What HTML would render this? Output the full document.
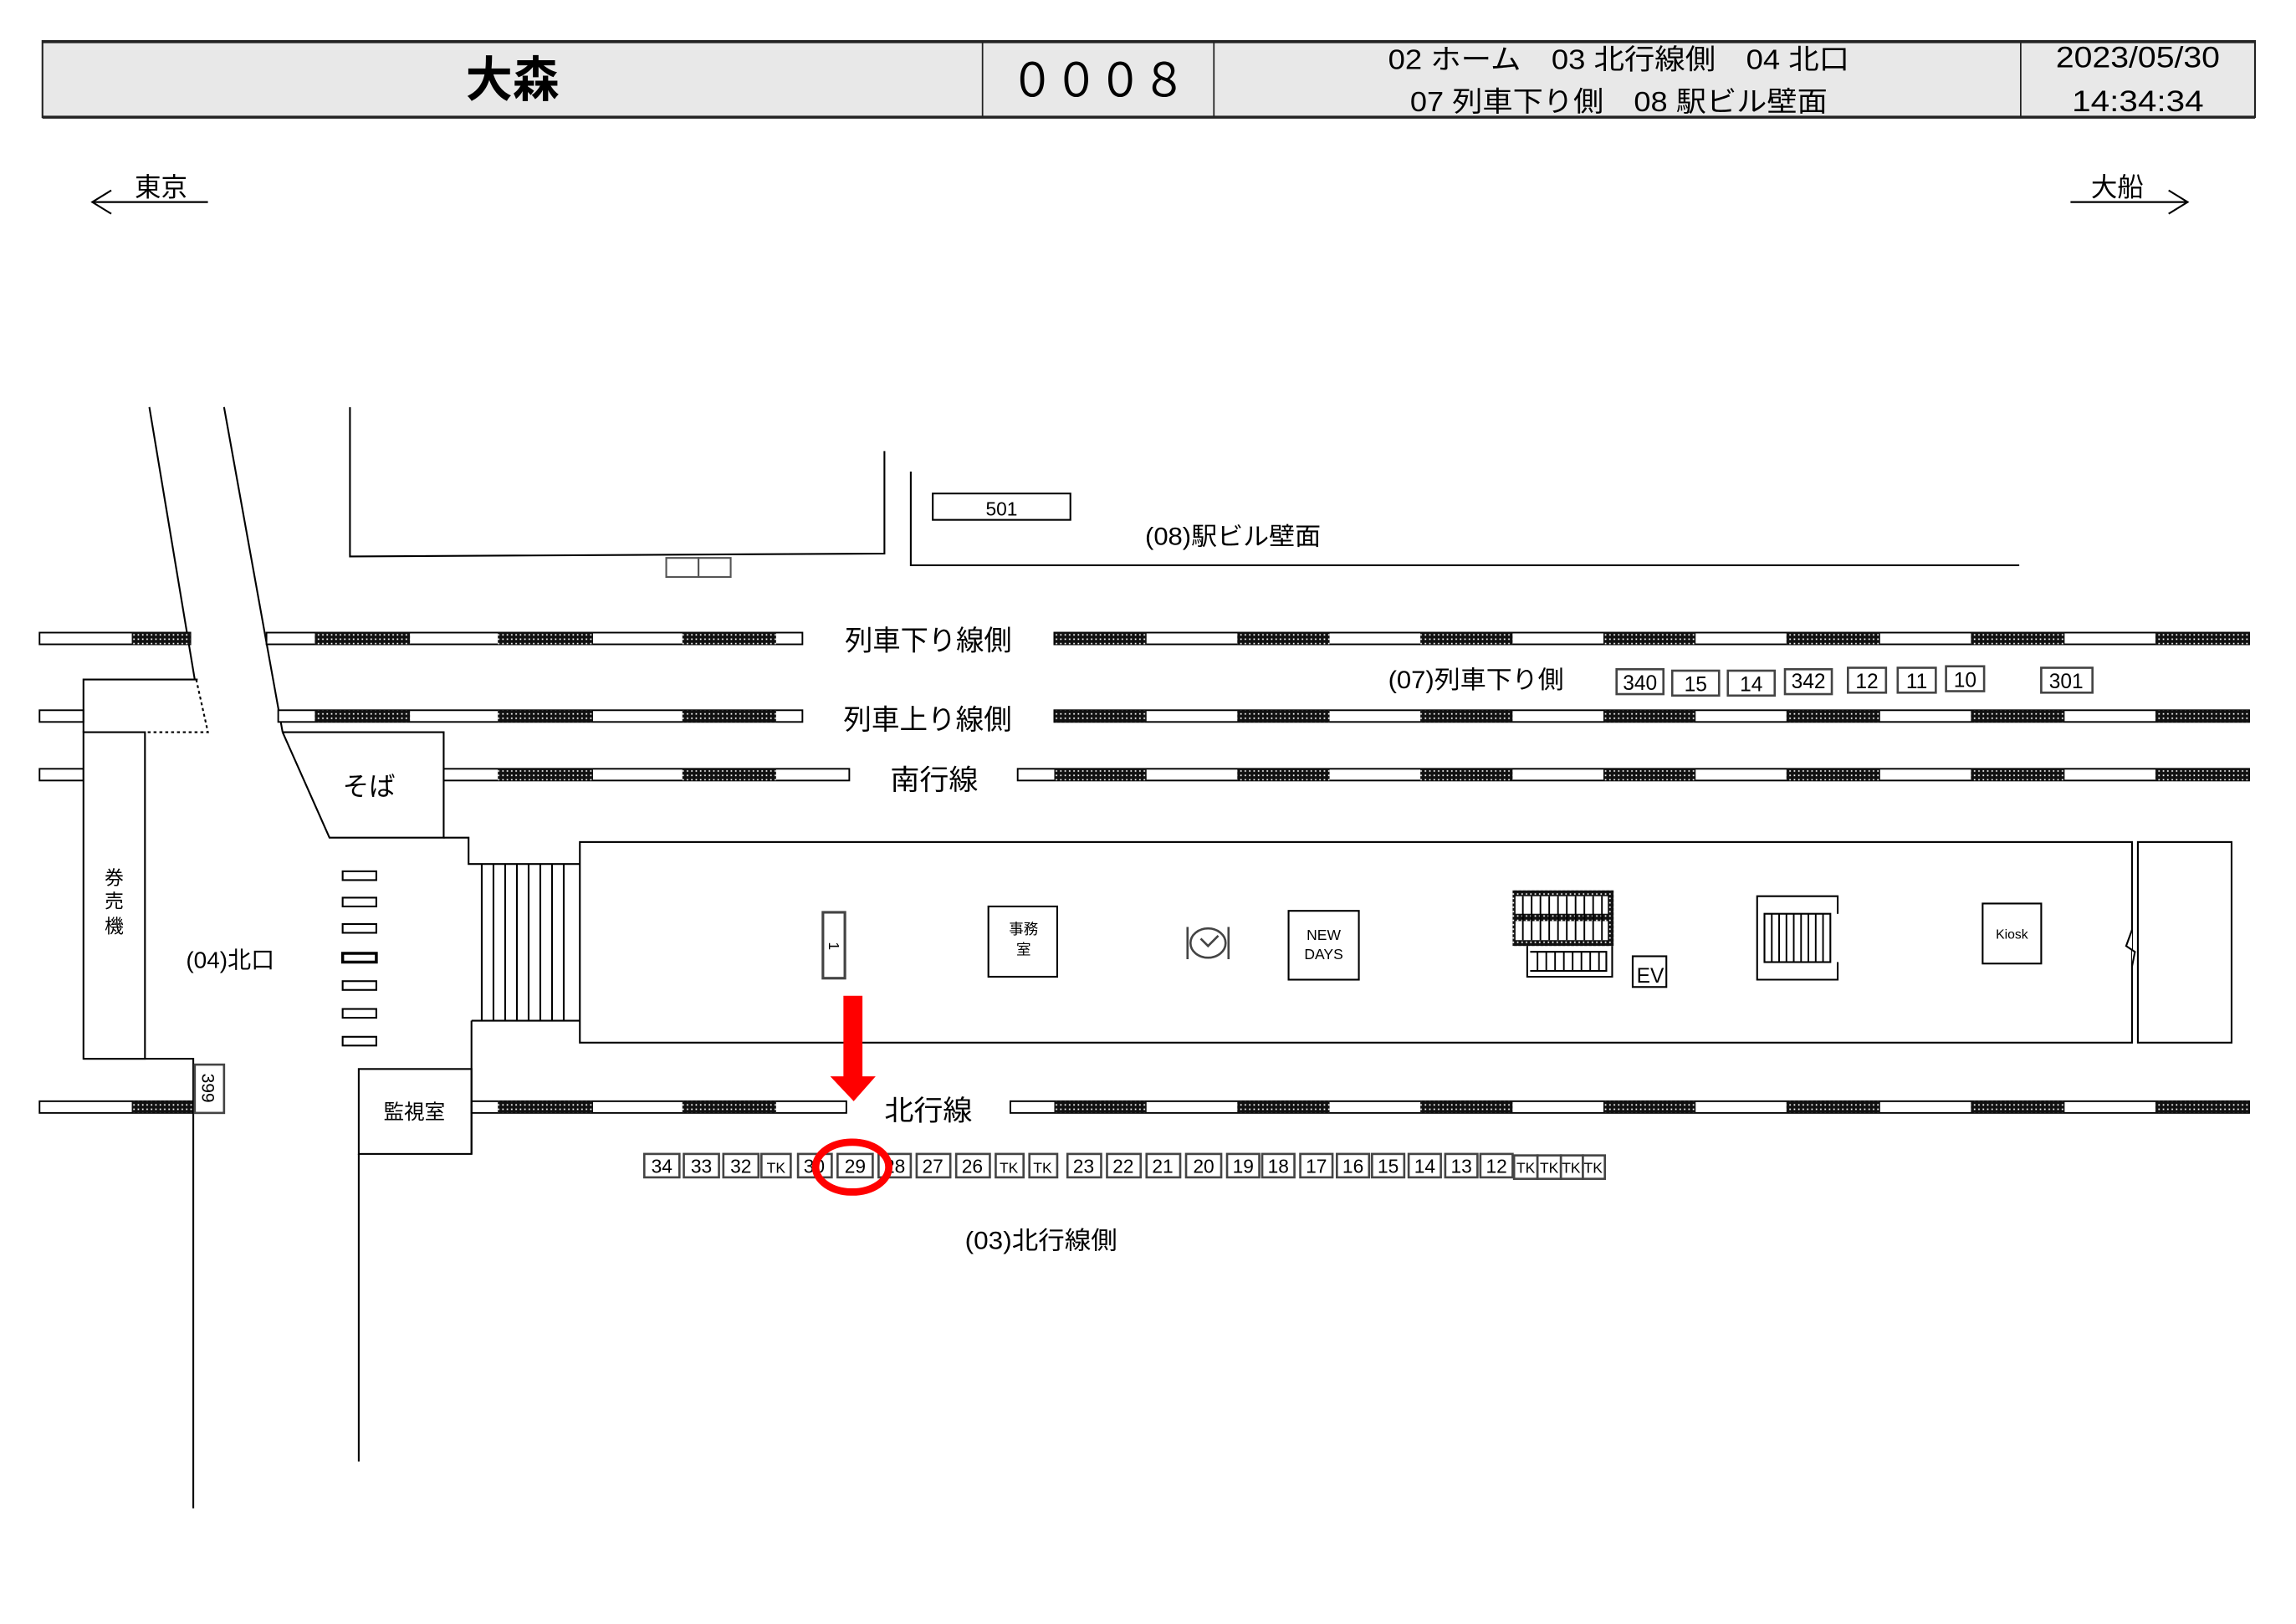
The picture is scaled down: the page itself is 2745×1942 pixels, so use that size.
<!DOCTYPE html>
<html><head><meta charset="utf-8">
<style>
html,body{margin:0;padding:0;background:#fff;}
svg{display:block;}
text{font-family:"Liberation Sans","Noto Sans CJK JP",sans-serif;fill:#000;}
</style></head>
<body>
<svg width="2745" height="1942" viewBox="0 0 1568 1109" preserveAspectRatio="none" xmlns="http://www.w3.org/2000/svg">
<defs>
<pattern id="dots" width="3" height="3" patternUnits="userSpaceOnUse">
<rect width="3" height="3" fill="#111"/><rect x="1" y="1" width="1" height="1" fill="#fff"/>
</pattern>
</defs>
<rect width="1568" height="1109" fill="#fff"/>

<!-- header -->
<rect x="29" y="28" width="1511" height="52" fill="#e8e8e8" stroke="#222" stroke-width="1.2"/>
<line x1="29" y1="28.5" x2="1540" y2="28.5" stroke="#222" stroke-width="2"/>
<line x1="29" y1="80" x2="1540" y2="80" stroke="#222" stroke-width="2"/>
<line x1="671" y1="28" x2="671" y2="80" stroke="#222" stroke-width="1"/>
<line x1="829" y1="28" x2="829" y2="80" stroke="#222" stroke-width="1"/>
<line x1="1380" y1="28" x2="1380" y2="80" stroke="#222" stroke-width="1"/>
<text x="318" y="66" font-size="33" font-weight="bold" textLength="64" lengthAdjust="spacingAndGlyphs">大森</text>
<text x="690" y="66" font-size="32" textLength="120" lengthAdjust="spacingAndGlyphs">０００８</text>
<text x="948" y="47" font-size="19" textLength="315" lengthAdjust="spacingAndGlyphs">02 ホーム　03 北行線側　04 北口</text>
<text x="963" y="76" font-size="19" textLength="285" lengthAdjust="spacingAndGlyphs">07 列車下り側　08 駅ビル壁面</text>
<text x="1404" y="46" font-size="20" textLength="112" lengthAdjust="spacingAndGlyphs">2023/05/30</text>
<text x="1415" y="76" font-size="20" textLength="90" lengthAdjust="spacingAndGlyphs">14:34:34</text>

<!-- direction arrows -->
<text x="110" y="134" font-size="18" text-anchor="middle">東京</text>
<line x1="63" y1="138" x2="142" y2="138" stroke="#000" stroke-width="1.3"/>
<polyline points="76,130 63,138 76,146" fill="none" stroke="#000" stroke-width="1.2"/>
<text x="1446" y="134" font-size="18" text-anchor="middle">大船</text>
<line x1="1414" y1="138" x2="1494" y2="138" stroke="#000" stroke-width="1.3"/>
<polyline points="1481,130 1494,138 1481,146" fill="none" stroke="#000" stroke-width="1.2"/>

<g fill="none" stroke="#000" stroke-width="1.2">
<polyline points="239,278 239,380 604,378 604,308"/>
<rect x="455" y="381" width="22" height="13" stroke="#555"/>
<rect x="477" y="381" width="22" height="13" stroke="#555"/>
<polyline points="622,322 622,386 1379,386"/>
<rect x="637" y="337" width="94" height="18"/>
<line x1="102" y1="278" x2="133" y2="464"/>
<line x1="153" y1="278" x2="193" y2="500"/>
</g>
<text x="684" y="352" font-size="13" text-anchor="middle">501</text>
<text x="782" y="372" font-size="17" textLength="120" lengthAdjust="spacingAndGlyphs">(08)駅ビル壁面</text>

<!-- tracks -->
<g stroke="#000" stroke-width="1.1" fill="#fff">
<rect x="27" y="432" width="103" height="8"/>
<rect x="182" y="432" width="366" height="8"/>
<rect x="720" y="432" width="816" height="8"/>
<rect x="27" y="485" width="30" height="8"/>
<rect x="190" y="485" width="358" height="8"/>
<rect x="720" y="485" width="816" height="8"/>
<rect x="27" y="525" width="30" height="8"/>
<rect x="303" y="525" width="277" height="8"/>
<rect x="695" y="525" width="841" height="8"/>
<rect x="27" y="752" width="105" height="8"/>
<rect x="322" y="752" width="256" height="8"/>
<rect x="690" y="752" width="846" height="8"/>
</g>
<g fill="url(#dots)">
<rect x="90" y="432" width="40" height="8"/>
<rect x="215" y="432" width="65" height="8"/><rect x="340" y="432" width="65" height="8"/><rect x="466" y="432" width="64" height="8"/>
<rect x="720" y="432" width="63" height="8"/><rect x="845" y="432" width="63" height="8"/><rect x="970" y="432" width="63" height="8"/><rect x="1095" y="432" width="63" height="8"/><rect x="1220" y="432" width="64" height="8"/><rect x="1346" y="432" width="64" height="8"/><rect x="1472" y="432" width="64" height="8"/>
<rect x="215" y="485" width="65" height="8"/><rect x="340" y="485" width="65" height="8"/><rect x="466" y="485" width="64" height="8"/>
<rect x="720" y="485" width="63" height="8"/><rect x="845" y="485" width="63" height="8"/><rect x="970" y="485" width="63" height="8"/><rect x="1095" y="485" width="63" height="8"/><rect x="1220" y="485" width="64" height="8"/><rect x="1346" y="485" width="64" height="8"/><rect x="1472" y="485" width="64" height="8"/>
<rect x="340" y="525" width="65" height="8"/><rect x="466" y="525" width="64" height="8"/>
<rect x="720" y="525" width="63" height="8"/><rect x="845" y="525" width="63" height="8"/><rect x="970" y="525" width="63" height="8"/><rect x="1095" y="525" width="63" height="8"/><rect x="1220" y="525" width="64" height="8"/><rect x="1346" y="525" width="64" height="8"/><rect x="1472" y="525" width="64" height="8"/>
<rect x="90" y="752" width="42" height="8"/>
<rect x="340" y="752" width="65" height="8"/><rect x="466" y="752" width="64" height="8"/>
<rect x="720" y="752" width="63" height="8"/><rect x="845" y="752" width="63" height="8"/><rect x="970" y="752" width="63" height="8"/><rect x="1095" y="752" width="63" height="8"/><rect x="1220" y="752" width="64" height="8"/><rect x="1346" y="752" width="64" height="8"/><rect x="1472" y="752" width="64" height="8"/>
</g>
<g font-size="19">
<text x="577" y="444" textLength="114" lengthAdjust="spacingAndGlyphs">列車下り線側</text>
<text x="576" y="498" textLength="115" lengthAdjust="spacingAndGlyphs">列車上り線側</text>
<text x="608" y="539" textLength="60" lengthAdjust="spacingAndGlyphs">南行線</text>
<text x="604" y="765" textLength="60" lengthAdjust="spacingAndGlyphs">北行線</text>
</g>
<text x="948" y="470" font-size="17" textLength="120" lengthAdjust="spacingAndGlyphs">(07)列車下り側</text>

<!-- left structures -->
<g fill="none" stroke="#000" stroke-width="1.2">
<polyline points="135,464 57,464 57,500"/>
<polyline points="134,464 142,500 100,500" stroke-dasharray="2,2"/>
<rect x="57" y="500" width="42" height="223" fill="#fff"/>
<polyline points="57,723 132,723 132,1030"/>
<polyline points="193,500 303,500 303,572 225,572 193,500"/>
<polyline points="303,572 320,572 320,590 396,590"/>
<polyline points="322,697 322,788"/>
<rect x="245" y="730" width="77" height="58"/>
<line x1="245" y1="788" x2="245" y2="998"/>
<line x1="322" y1="697" x2="396" y2="697"/>
<line x1="329" y1="590" x2="329" y2="697"/>
<line x1="337" y1="590" x2="337" y2="697"/><line x1="345" y1="590" x2="345" y2="697"/><line x1="353" y1="590" x2="353" y2="697"/><line x1="361" y1="590" x2="361" y2="697"/><line x1="369" y1="590" x2="369" y2="697"/><line x1="377" y1="590" x2="377" y2="697"/><line x1="385" y1="590" x2="385" y2="697"/>
<rect x="234" y="595" width="23" height="6"/><rect x="234" y="613" width="23" height="6"/><rect x="234" y="631" width="23" height="6"/><rect x="234" y="651" width="23" height="6" stroke-width="2"/><rect x="234" y="670" width="23" height="6"/><rect x="234" y="689" width="23" height="6"/><rect x="234" y="708" width="23" height="6"/>
<rect x="133" y="727" width="20" height="33" stroke="#444" stroke-width="1.5" fill="#fff"/>
</g>
<text x="252" y="543" font-size="18" text-anchor="middle">そば</text>
<text x="78" y="604" font-size="13" text-anchor="middle">券</text>
<text x="78" y="620" font-size="13" text-anchor="middle">売</text>
<text x="78" y="637" font-size="13" text-anchor="middle">機</text>
<text x="127" y="661" font-size="16">(04)北口</text>
<text x="283" y="764" font-size="14" text-anchor="middle">監視室</text>
<text transform="translate(138,743) rotate(90)" font-size="12" text-anchor="middle">399</text>

<!-- platform -->
<g fill="none" stroke="#000" stroke-width="1.2">
<rect x="396" y="575" width="1060" height="137"/>
<rect x="1460" y="575" width="64" height="137"/>
<polyline points="1456,635 1452,646 1458,650 1456,660" fill="#fff"/>
<rect x="562" y="623" width="15" height="45" stroke="#444" stroke-width="1.8"/>
<rect x="675" y="619" width="47" height="48"/>
<rect x="880" y="622" width="48" height="47"/>
<rect x="1354" y="617" width="40" height="41"/>
<rect x="1115" y="653" width="23" height="21"/>
<line x1="811" y1="633" x2="811" y2="655" stroke="#444" stroke-width="1.5"/>
<line x1="839" y1="633" x2="839" y2="655" stroke="#444" stroke-width="1.5"/>
<ellipse cx="825" cy="644" rx="12" ry="10" stroke="#444" stroke-width="1.5"/>
<polyline points="820,641 825,646 832,639" stroke="#444" stroke-width="1.5"/>
<rect x="1033" y="608" width="69" height="38" fill="url(#dots)" stroke="none"/>
<rect x="1035" y="612" width="63" height="12" fill="#fff" stroke="none"/>
<rect x="1035" y="629" width="63" height="13" fill="#fff" stroke="none"/>
<g stroke-width="1.1">
<line x1="1040" y1="612" x2="1040" y2="642"/><line x1="1046" y1="612" x2="1046" y2="642"/><line x1="1052" y1="612" x2="1052" y2="642"/><line x1="1058" y1="612" x2="1058" y2="642"/><line x1="1064" y1="612" x2="1064" y2="642"/><line x1="1070" y1="612" x2="1070" y2="642"/><line x1="1076" y1="612" x2="1076" y2="642"/><line x1="1082" y1="612" x2="1082" y2="642"/><line x1="1088" y1="612" x2="1088" y2="642"/><line x1="1094" y1="612" x2="1094" y2="642"/>
</g>
<polyline points="1043,646 1043,667 1101,667 1101,646"/>
<polyline points="1045,650 1097,650 1097,663 1045,663"/>
<g stroke-width="1.1">
<line x1="1050" y1="650" x2="1050" y2="663"/><line x1="1056" y1="650" x2="1056" y2="663"/><line x1="1062" y1="650" x2="1062" y2="663"/><line x1="1068" y1="650" x2="1068" y2="663"/><line x1="1074" y1="650" x2="1074" y2="663"/><line x1="1080" y1="650" x2="1080" y2="663"/><line x1="1086" y1="650" x2="1086" y2="663"/><line x1="1092" y1="650" x2="1092" y2="663"/>
</g>
<polyline points="1255,624 1255,612 1200,612 1200,669 1255,669 1255,657"/>
<rect x="1205" y="624" width="45" height="33"/>
<g stroke-width="1.1">
<line x1="1210" y1="624" x2="1210" y2="657"/><line x1="1215" y1="624" x2="1215" y2="657"/><line x1="1220" y1="624" x2="1220" y2="657"/><line x1="1225" y1="624" x2="1225" y2="657"/><line x1="1230" y1="624" x2="1230" y2="657"/><line x1="1235" y1="624" x2="1235" y2="657"/><line x1="1240" y1="624" x2="1240" y2="657"/><line x1="1245" y1="624" x2="1245" y2="657"/>
</g>
</g>
<text transform="translate(566,646) rotate(90)" font-size="10" text-anchor="middle">1</text>
<text x="699" y="638" font-size="10" text-anchor="middle">事務</text>
<text x="699" y="652" font-size="10" text-anchor="middle">室</text>
<text x="904" y="642" font-size="10" text-anchor="middle">NEW</text>
<text x="904" y="655" font-size="10" text-anchor="middle">DAYS</text>
<text x="1374" y="641" font-size="9" text-anchor="middle">Kiosk</text>
<text x="1127" y="671" font-size="14" text-anchor="middle">EV</text>

<rect x="576" y="680" width="13" height="56" fill="#f00"/>
<polygon points="567,735 598,735 583,752" fill="#f00"/>

<g fill="#fff" stroke="#444" stroke-width="1.5">
<rect x="1104" y="457" width="32" height="17"/><rect x="1142" y="458" width="32" height="17"/><rect x="1180" y="458" width="32" height="17"/><rect x="1219" y="457" width="32" height="17"/><rect x="1262" y="456" width="26" height="17"/><rect x="1296" y="456" width="26" height="17"/><rect x="1329" y="455" width="26" height="17"/><rect x="1394" y="456" width="35" height="17"/>
</g>
<g font-size="14" text-anchor="middle">
<text x="1120" y="471">340</text><text x="1158" y="472">15</text><text x="1196" y="472">14</text><text x="1235" y="470">342</text><text x="1275" y="470">12</text><text x="1309" y="470">11</text><text x="1342" y="469">10</text><text x="1411" y="470">301</text>
</g>

<g fill="#fff" stroke="#444" stroke-width="1.5">
<rect x="440" y="788" width="24" height="16"/><rect x="467" y="788" width="24" height="16"/><rect x="494" y="788" width="24" height="16"/><rect x="520" y="788" width="20" height="16"/><rect x="545" y="788" width="23" height="16"/><rect x="572" y="788" width="24" height="16"/><rect x="600" y="788" width="22" height="16"/><rect x="626" y="788" width="23" height="16"/><rect x="653" y="788" width="23" height="16"/><rect x="680" y="788" width="19" height="16"/><rect x="703" y="788" width="19" height="16"/><rect x="729" y="788" width="23" height="16"/><rect x="756" y="788" width="23" height="16"/><rect x="783" y="788" width="23" height="16"/><rect x="810" y="788" width="24" height="16"/><rect x="838" y="788" width="22" height="16"/><rect x="862" y="788" width="22" height="16"/><rect x="888" y="788" width="22" height="16"/><rect x="913" y="788" width="22" height="16"/><rect x="937" y="788" width="22" height="16"/><rect x="962" y="788" width="22" height="16"/><rect x="987" y="788" width="22" height="16"/><rect x="1011" y="788" width="22" height="16"/><rect x="1034" y="789" width="16" height="16"/><rect x="1050" y="789" width="16" height="16"/><rect x="1066" y="789" width="15" height="16"/><rect x="1081" y="789" width="15" height="16"/>
</g>
<g font-size="13" text-anchor="middle">
<text x="452" y="801">34</text><text x="479" y="801">33</text><text x="506" y="801">32</text><text x="530" y="801" font-size="10">TK</text><text x="556" y="801">30</text><text x="584" y="801">29</text><text x="611" y="801">28</text><text x="637" y="801">27</text><text x="664" y="801">26</text><text x="689" y="801" font-size="10">TK</text><text x="712" y="801" font-size="10">TK</text><text x="740" y="801">23</text><text x="767" y="801">22</text><text x="794" y="801">21</text><text x="822" y="801">20</text><text x="849" y="801">19</text><text x="873" y="801">18</text><text x="899" y="801">17</text><text x="924" y="801">16</text><text x="948" y="801">15</text><text x="973" y="801">14</text><text x="998" y="801">13</text><text x="1022" y="801">12</text><text x="1042" y="801" font-size="10">TK</text><text x="1058" y="801" font-size="10">TK</text><text x="1073" y="801" font-size="10">TK</text><text x="1088" y="801" font-size="10">TK</text>
</g>
<ellipse cx="582" cy="797" rx="25" ry="17" fill="none" stroke="#f00" stroke-width="5"/>
<text x="659" y="853" font-size="17" textLength="104" lengthAdjust="spacingAndGlyphs">(03)北行線側</text>
</svg>
</body></html>
